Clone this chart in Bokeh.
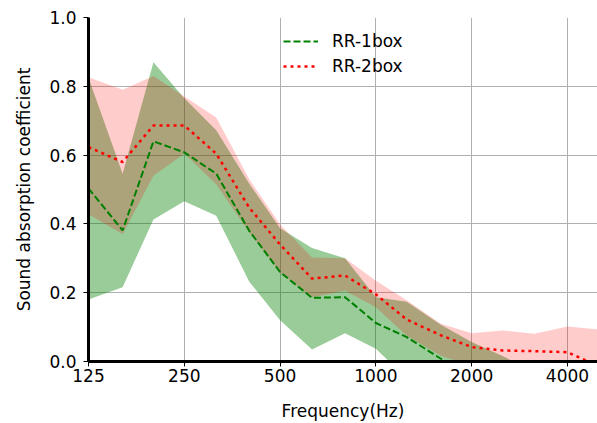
from bokeh.plotting import figure
from bokeh.models import FixedTicker, Range1d, Legend, LegendItem
from bokeh.embed import file_html
from bokeh.resources import INLINE

freqs = [125, 160, 200, 250, 315, 400, 500, 630, 800, 1000, 1250, 1600, 2000, 2500, 3150, 4000, 5000]

rr1_mean = [0.503, 0.381, 0.640, 0.608, 0.546, 0.380, 0.260, 0.185, 0.187, 0.112, 0.071, 0.008, -0.05, -0.06, -0.07, -0.08, -0.08]
rr1_upper = [0.825, 0.546, 0.870, 0.765, 0.672, 0.517, 0.387, 0.330, 0.300, 0.187, 0.174, 0.107, 0.057, 0.016, -0.03, -0.04, -0.05]
rr1_lower = [0.180, 0.216, 0.413, 0.466, 0.424, 0.232, 0.120, 0.035, 0.082, 0.037, -0.05, -0.10, -0.12, -0.13, -0.13, -0.14, -0.15]

rr2_mean = [0.623, 0.580, 0.686, 0.686, 0.604, 0.447, 0.340, 0.241, 0.250, 0.195, 0.122, 0.076, 0.042, 0.032, 0.030, 0.027, -0.013]
rr2_upper = [0.826, 0.790, 0.830, 0.770, 0.709, 0.530, 0.398, 0.302, 0.300, 0.235, 0.178, 0.110, 0.082, 0.090, 0.081, 0.102, 0.093]
rr2_lower = [0.428, 0.370, 0.540, 0.604, 0.515, 0.375, 0.258, 0.187, 0.206, 0.158, 0.075, 0.017, -0.013, -0.02, -0.02, -0.04, -0.10]

xticks = [125, 250, 500, 1000, 2000, 4000]
xtick_labels = {t: str(t) for t in xticks}
yticks = [0.0, 0.2, 0.4, 0.6, 0.8, 1.0]

FONT = "DejaVu Sans"
FS = "17px"

p = figure(width=597, height=423, x_axis_type="log", output_backend="svg",
           toolbar_location=None, x_range=Range1d(125, 4970), y_range=Range1d(0, 1),
           min_border_left=88, min_border_right=0, min_border_top=17, min_border_bottom=62)
p.outline_line_color = None
p.background_fill_color = "white"

p.varea(x=freqs, y1=rr1_lower, y2=rr1_upper, fill_color="green", fill_alpha=0.4)
p.varea(x=freqs, y1=rr2_lower, y2=rr2_upper, fill_color="red", fill_alpha=0.2)
l1 = p.line(freqs, rr1_mean, line_color="green", line_width=2, line_dash="7 3")
l2 = p.line(freqs, rr2_mean, line_color="red", line_width=2.5, line_dash="3 4")

p.xaxis.ticker = FixedTicker(ticks=xticks, minor_ticks=[])
p.xaxis.major_label_overrides = xtick_labels
p.yaxis.ticker = FixedTicker(ticks=yticks, minor_ticks=[])
p.yaxis.major_label_overrides = {0.0: "0.0", 0.2: "0.2", 0.4: "0.4", 0.6: "0.6", 0.8: "0.8", 1.0: "1.0"}

for ax in (p.xaxis, p.yaxis):
    ax.axis_line_width = 3
    ax.axis_line_color = "black"
    ax.major_tick_out = 5
    ax.major_tick_in = 0
    ax.minor_tick_out = 0
    ax.minor_tick_in = 0
    ax.major_tick_line_color = "black"
    ax.major_label_text_font = FONT
    ax.major_label_text_font_size = FS
    ax.major_label_text_color = "black"
    ax.axis_label_text_font = FONT
    ax.axis_label_text_font_size = FS
    ax.axis_label_text_font_style = "normal"
    ax.axis_label_text_color = "black"

p.xaxis.axis_label = "Frequency(Hz)"
p.yaxis.axis_label = "Sound absorption coefficient"
p.xaxis.major_label_standoff = 2
p.yaxis.major_label_standoff = 7
p.xaxis.axis_label_standoff = 16
p.yaxis.axis_label_standoff = 12

p.xgrid.grid_line_color = "#b0b0b0"
p.ygrid.grid_line_color = "#b0b0b0"
p.xgrid.grid_line_width = 1
p.ygrid.grid_line_width = 1

legend = Legend(items=[LegendItem(label="RR-1box", renderers=[l1]),
                       LegendItem(label="RR-2box", renderers=[l2])],
                location=(195, 285))
legend.glyph_width = 35
legend.glyph_height = 20
legend.label_height = 20
legend.label_standoff = 14
legend.spacing = 5
legend.padding = 0
legend.margin = 0
legend.border_line_color = None
legend.background_fill_alpha = 0
legend.label_text_font = FONT
legend.label_text_font_size = FS
legend.label_text_color = "black"
p.add_layout(legend, "center")

open("out.html", "w").write(file_html(p, INLINE))
